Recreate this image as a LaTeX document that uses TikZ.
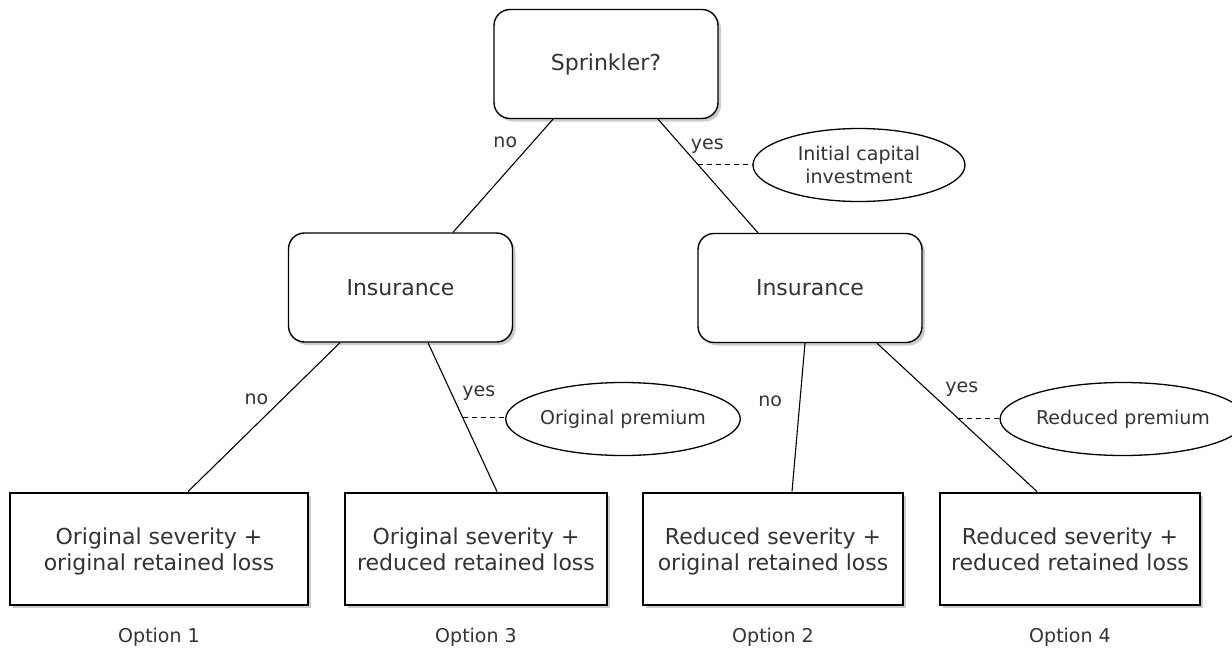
\documentclass[tikz,border=0pt]{standalone}
\usepackage{fontspec}
\setmainfont{DejaVu Sans}
\usetikzlibrary{positioning, shapes.geometric, shadows}

\begin{document}
\begin{tikzpicture}[x=1pt, y=-1pt, font=\fontsize{19}{23}\selectfont, text=black!80,
    shade/.style={drop shadow={shadow xshift=3pt, shadow yshift=-3pt, opacity=.4}},
    choice/.style={draw, rounded corners=16pt, line width=1.4pt, fill=white, shade,
        minimum width=224pt, minimum height=109pt, font=\fontsize{22}{26}\selectfont},
    outcome/.style={draw, line width=2.8pt, fill=white, shade, align=center,
        minimum height=112pt, font=\fontsize{22}{26}\selectfont},
    cost/.style={draw, ellipse, line width=1.3pt, inner sep=0pt, align=center, minimum height=73pt},
    branch/.style={line width=1.1pt},
    link/.style={line width=1.1pt, dash pattern=on 5pt off 4pt}]
    \useasboundingbox (0,0) rectangle (1232,656);

    \node[choice] (sp) at (606,64) {Sprinkler?};
    \node[choice] (ins1) at (400.5,287.5) {Insurance};
    \node[choice] (ins2) at (810,288) {Insurance};

    \node[outcome, minimum width=298pt] (o1) at (159,549) {\rule{0pt}{25pt}Original severity +\\original retained loss\strut};
    \node[outcome, minimum width=262pt] (o3) at (476,549) {\rule{0pt}{25pt}Original severity +\\reduced retained loss\strut};
    \node[outcome, minimum width=260pt] (o2) at (773,549) {\rule{0pt}{25pt}Reduced severity +\\original retained loss\strut};
    \node[outcome, minimum width=260pt] (o4) at (1070,549) {\rule{0pt}{25pt}Reduced severity +\\reduced retained loss\strut};

    \node (opt1) [below=18pt of o1] {Option 1};
    \node (opt3) [below=18pt of o3] {Option 3};
    \node (opt2) [below=18pt of o2] {Option 2};
    \node (opt4) [below=18pt of o4] {Option 4};

    \node[cost, minimum width=212pt] (capital) at (859,165) {Initial capital\\investment};
    \node[cost, minimum width=223pt] (origprem) at (623,419) {Original premium};
    \node[cost, minimum width=214pt] (redprem) at (1123,419) {Reduced premium};

    \path[branch]
    ([xshift=-53pt]sp.south) edge node[pos=.2, left=12pt] {no} ([xshift=52.5pt]ins1.north)
    ([xshift=52pt]sp.south) edge node[pos=.24, right=5pt] {yes}
        node[coordinate, pos=.398] (c1) {} ([xshift=-52pt]ins2.north)
    ([xshift=-60.5pt]ins1.south) edge node[pos=.38, left=10pt] {no} ([xshift=29pt]o1.north)
    ([xshift=27.5pt]ins1.south) edge node[pos=.34, right=7pt] {yes}
        node[coordinate, pos=.503] (c2) {} ([xshift=21pt]o3.north)
    ([xshift=-5pt]ins2.south) edge node[pos=.39, left=14pt] {no} ([xshift=19pt]o2.north)
    ([xshift=67pt]ins2.south) edge node[pos=.31, right=15pt] {yes}
        node[coordinate, pos=.507] (c3) {} ([xshift=-33pt]o4.north);

    \draw[link] (c1) -- (c1 -| capital.west);
    \draw[link] (c2) -- (c2 -| origprem.west);
    \draw[link] (c3) -- (c3 -| redprem.west);
\end{tikzpicture}
\end{document}
